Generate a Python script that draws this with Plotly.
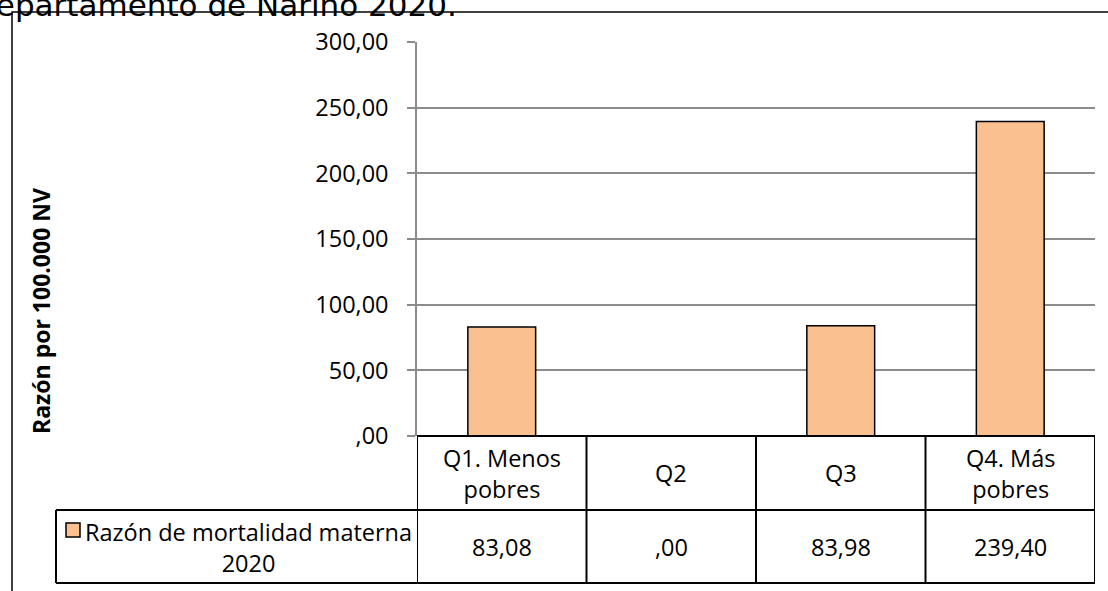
import plotly.graph_objects as go

# ---- data ----
categories = ["Q1. Menos pobres", "Q2", "Q3", "Q4. Más pobres"]
header_labels = ["Q1. Menos<br>pobres", "Q2", "Q3", "Q4. Más<br>pobres"]
values = [83.08, 0.00, 83.98, 239.40]
series_name = "Razón de mortalidad materna<br>2020"
tick_vals = [0, 50, 100, 150, 200, 250, 300]
tick_labels = [",00", "50,00", "100,00", "150,00", "200,00", "250,00", "300,00"]
y_title = "Razón por 100.000 NV"
title_text = "Departamento de Nariño 2020."


def fmt(v):
    s = f"{v:.2f}".replace(".", ",")
    if s.startswith("0,"):
        s = s[1:]
    return s


# ---- layout geometry (pixels) ----
W, H = 1108, 591
L, R, T, B = 417, 13, 42, 155
PW = W - L - R
PH = H - T - B


def px_x(p):
    return (p - L) / PW


def px_y(p):
    return (H - B - p) / PH


BAR_COLOR = "#FAC090"
GRID = "#8c8c8c"
FONT = "Open Sans"
FS = 23.5

fig = go.Figure()
fig.add_trace(go.Bar(
    x=list(range(len(categories))), y=values, width=0.4,
    marker=dict(color=BAR_COLOR, line=dict(color="black", width=1.5)),
    name=series_name.replace("<br>", " "), showlegend=False,
    hovertext=categories,
))

shapes = []
black = dict(color="black", width=2)
# header row top (x-axis line)
shapes.append(dict(type="line", xref="paper", yref="paper", x0=0, x1=1, y0=0, y1=0, line=black))
# vertical lines of the table at category boundaries
for i in range(len(categories) + 1):
    xb = i - 0.5
    shapes.append(dict(type="line", xref="x", yref="paper", x0=xb, x1=xb,
                       y0=0, y1=px_y(583), line=black))
# data row borders
for yy in (510, 583):
    shapes.append(dict(type="line", xref="paper", yref="paper", x0=px_x(56), x1=1,
                       y0=px_y(yy), y1=px_y(yy), line=black))
shapes.append(dict(type="line", xref="paper", yref="paper", x0=px_x(56), x1=px_x(56),
                   y0=px_y(510), y1=px_y(583), line=black))
# legend key
shapes.append(dict(type="rect", xref="paper", yref="paper", x0=px_x(66), x1=px_x(80),
                   y0=px_y(537), y1=px_y(523), fillcolor=BAR_COLOR,
                   line=dict(color="black", width=1.5)))
# outer chart border
shapes.append(dict(type="rect", xref="paper", yref="paper", x0=px_x(12), x1=px_x(1125),
                   y0=px_y(610), y1=px_y(12), line=dict(color="black", width=1.5)))

annotations = []
tfont = dict(family=FONT, size=FS, color="black")
for i, lab in enumerate(header_labels):
    annotations.append(dict(x=i, xref="x", y=px_y(473), yref="paper", text=lab,
                            showarrow=False, font=tfont, xanchor="center", yanchor="middle"))
for i, v in enumerate(values):
    annotations.append(dict(x=i, xref="x", y=px_y(547), yref="paper", text=fmt(v),
                            showarrow=False, font=tfont, xanchor="center", yanchor="middle"))
annotations.append(dict(x=px_x(248), xref="paper", y=px_y(547), yref="paper", text=series_name,
                        showarrow=False, font=tfont, xanchor="center", yanchor="middle"))
annotations.append(dict(x=px_x(41), xref="paper", y=px_y(311), yref="paper",
                        text="<b>" + y_title + "</b>", textangle=-90, showarrow=False,
                        font=dict(family=FONT, size=23, color="black"),
                        xanchor="center", yanchor="middle"))
annotations.append(dict(x=px_x(459), xref="paper", y=px_y(25), yref="paper", text=title_text,
                        showarrow=False, font=dict(family="DejaVu Sans", size=31, color="black"),
                        xanchor="right", yanchor="bottom"))

fig.update_layout(
    width=W, height=H, autosize=False,
    margin=dict(l=L, r=R, t=T, b=B, pad=0),
    paper_bgcolor="white", plot_bgcolor="white",
    shapes=shapes, annotations=annotations,
    xaxis=dict(range=[-0.5, len(categories) - 0.5], showticklabels=False, showgrid=False,
               zeroline=False, showline=False, fixedrange=True),
    yaxis=dict(range=[0, 300], tickvals=tick_vals, ticktext=tick_labels,
               showgrid=True, gridcolor=GRID, gridwidth=1.5,
               showline=True, linecolor=GRID, linewidth=1.5,
               ticks="outside", ticklen=8, tickcolor=GRID, tickwidth=1.5,
               ticklabelstandoff=14, zeroline=False,
               tickfont=dict(family=FONT, size=FS, color="black")),
    bargap=0.6, showlegend=False,
)

fig.write_html("out.html", config={"displayModeBar": False},
               post_script="document.body.style.margin='0';")
